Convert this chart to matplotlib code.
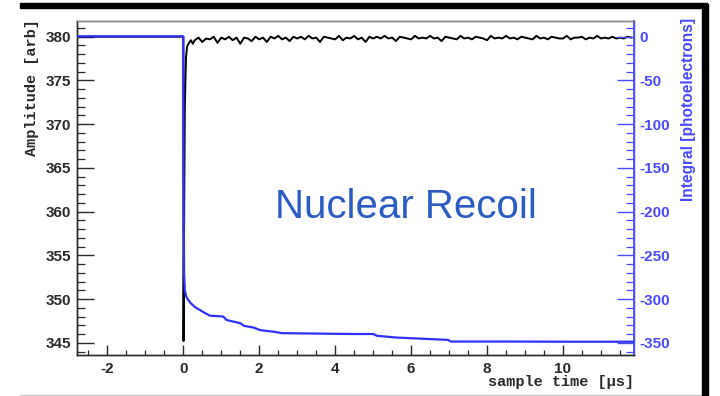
import numpy as np
import matplotlib
matplotlib.use("Agg")
import matplotlib.pyplot as plt
from matplotlib.ticker import MultipleLocator
from matplotlib.patches import Rectangle
from matplotlib.lines import Line2D

plt.rcParams["axes.unicode_minus"] = False

# ---------------- data ----------------
# waveform (amplitude, arb) : pulse region
pulse_t = [-2.8, -0.01, 0.0, 0.005, 0.02, 0.04, 0.07, 0.1, 0.15, 0.2, 0.25]
pulse_amp = [380.0, 380.0, 380.0, 345.2, 358.0, 372.0, 377.6, 378.9, 379.3, 379.6, 379.2]
# waveform after the pulse, sampled every 0.1 us from 0.3 us
tail_start = 0.3
tail_step = 0.1
tail_amp = [
    379.6, 379.9, 379.4, 379.8, 379.7, 380.0, 379.3, 379.9, 379.7, 380.0,
    379.6, 379.9, 379.2, 379.9, 379.8, 379.5, 380.0, 379.7, 379.9, 379.4,
    380.0, 379.8, 380.1, 379.7, 379.9, 379.5, 380.0, 379.8, 380.0, 379.7,
    380.1, 379.8, 379.9, 379.4, 380.0, 379.9, 379.8, 379.7, 380.1, 379.6,
    379.9, 379.8, 380.1, 379.7, 379.9, 379.4, 380.0, 379.8, 380.0, 379.8,
    380.1, 379.8, 379.9, 379.5, 380.0, 379.9, 379.8, 379.7, 380.1, 379.8,
    379.9, 379.8, 380.1, 379.8, 379.9, 379.5, 380.0, 379.9, 379.8, 379.7,
    380.1, 379.8, 379.9, 379.7, 380.0, 379.9, 379.8, 379.6, 380.1, 379.8,
    379.9, 379.8, 380.1, 379.8, 379.9, 379.7, 380.0, 379.9, 379.8, 379.7,
    380.1, 379.8, 379.9, 379.7, 380.0, 379.9, 379.8, 379.8, 380.1, 379.7,
    379.9, 379.9, 380.0, 379.7, 379.9, 379.8, 380.1, 379.8, 379.9, 379.8,
    380.0, 379.8, 379.9, 379.8, 380.0, 379.9,
]

# integral (photoelectrons)
integ_t = [-2.8, 0.0, 0.005, 0.02, 0.04, 0.07, 0.1, 0.18, 0.3, 0.53, 0.7, 1.05,
           1.14, 1.5, 1.6, 1.85, 2.03, 2.4, 2.6, 3.5, 4.5, 5.0, 5.1, 5.6, 6.1,
           6.97, 7.05, 8.5, 10.0, 11.85]
integ_val = [0.5, 0.5, -150, -270, -290, -296, -299, -304, -309, -315, -319, -320,
             -324, -327.6, -330.7, -332.6, -335.6, -337.5, -339, -339.5, -340,
             -340, -342, -344, -345, -346.7, -348.6, -348.6, -348.8, -348.8]

x_ticks = [-2, 0, 2, 4, 6, 8, 10]
title_text = "Nuclear Recoil"

# ---------------- figure ----------------
W, H = 720, 396
fig = plt.figure(figsize=(W / 100, H / 100), dpi=100)
fig.patch.set_facecolor("white")

L, R, T, B = 77, 634, 21, 355
ax = fig.add_axes([L / W, 1 - B / H, (R - L) / W, (B - T) / H])

tail_t = tail_start + tail_step * np.arange(len(tail_amp))
wave_t = np.concatenate([pulse_t, tail_t])
wave_a = np.concatenate([pulse_amp, tail_amp])

dark = "#2a2a2a"
blue_line = "#3030ff"
blue_axis = "#4a4aff"

ax.plot(wave_t, wave_a, color="black", lw=1.4, zorder=2)
ax.set_xlim(-2.8, 11.87)
ylo, yhi = 343.6, 381.8
ax.set_ylim(ylo, yhi)

ax2 = ax.twinx()
ax2.set_ylim((ylo - 380) * 10, (yhi - 380) * 10)
ax2.plot(integ_t, integ_val, color=blue_line, lw=1.6, zorder=3)

# ticks
ax.xaxis.set_major_locator(MultipleLocator(2))
ax.xaxis.set_minor_locator(MultipleLocator(0.5))
ax.yaxis.set_major_locator(MultipleLocator(5))
ax.yaxis.set_minor_locator(MultipleLocator(1))
ax.set_xticks(x_ticks)
ax.tick_params(axis="x", which="major", direction="in", length=7.5, width=1.0,
               color=dark, labelsize=11, pad=5, labelcolor=dark, top=False)
ax.tick_params(axis="x", which="minor", direction="in", length=3.8, width=0.9,
               color=dark, top=False)
ax.tick_params(axis="y", which="major", direction="in", length=12, width=1.0,
               color=dark, labelsize=11, pad=4, labelcolor=dark)
ax.tick_params(axis="y", which="minor", direction="in", length=6, width=0.9,
               color=dark)
for lab in ax.get_xticklabels() + ax.get_yticklabels():
    lab.set_fontfamily("Liberation Sans")
    lab.set_fontweight("bold")

ax2.yaxis.set_major_locator(MultipleLocator(50))
ax2.yaxis.set_minor_locator(MultipleLocator(10))
ax2.tick_params(axis="y", which="major", direction="in", length=12, width=1.0,
                color=blue_axis, labelsize=11, pad=4, labelcolor=blue_axis)
ax2.tick_params(axis="y", which="minor", direction="in", length=6, width=0.9,
                color=blue_axis)
for lab in ax2.get_yticklabels():
    lab.set_fontfamily("Liberation Sans")
    lab.set_fontweight("bold")

for a in (ax, ax2):
    a.spines["left"].set_color(dark)
    a.spines["bottom"].set_color(dark)
    a.spines["top"].set_color("#8a8a8a")
    a.spines["right"].set_color(blue_axis)
    for s in a.spines.values():
        s.set_linewidth(1.0)
ax2.spines["right"].set_linewidth(1.3)

# axis titles
fig.text(634 / W, 1 - 382 / H, "sample time [\u03bcs]", ha="right", va="center",
         fontsize=11, family="Liberation Mono", fontweight="bold", color=dark)
fig.text(32 / W, 1 - 19 / H, "Amplitude [arb]", ha="center", va="top",
         rotation=90, fontsize=11, family="Liberation Mono", fontweight="bold",
         color=dark)
fig.text(688 / W, 1 - 18 / H, "Integral [photoelectrons]", ha="center", va="top",
         rotation=90, fontsize=11.2, family="Liberation Sans", fontweight="bold",
         color=blue_axis)

# big label
ax.text(0.59, 0.443, title_text, transform=ax.transAxes, ha="center", va="center",
        fontsize=29, family="Liberation Sans", color="#2b5cc4")

# screenshot border pieces
fig.patches.append(Rectangle((20 / W, 1 - 8 / H), (707 - 20) / W, 5 / H,
                             transform=fig.transFigure, color="black", zorder=10))
fig.patches.append(Rectangle((702 / W, 0), 6 / W, 1 - 4 / H,
                             transform=fig.transFigure, color="black", zorder=10))
fig.lines.append(Line2D([20 / W, 702 / W], [1 - 395 / H, 1 - 395 / H],
                        transform=fig.transFigure, color="#cccccc", lw=1))

fig.savefig("out.png", dpi=100)
